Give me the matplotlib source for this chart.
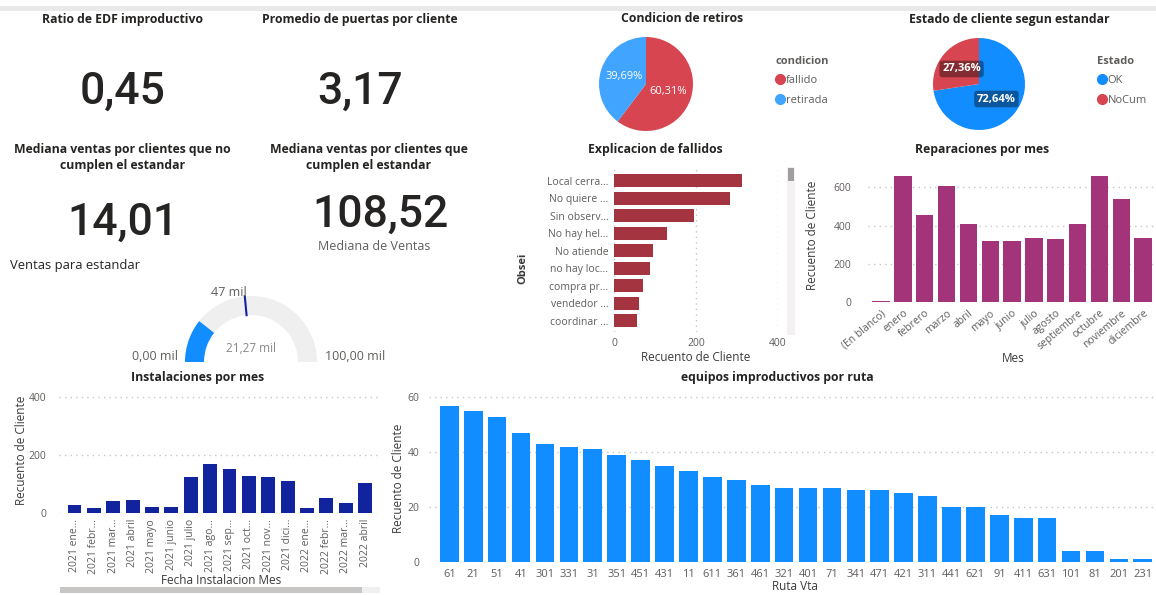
import matplotlib
matplotlib.use("Agg")
import matplotlib.pyplot as plt
from matplotlib.patches import Wedge, Rectangle
from matplotlib.lines import Line2D
import numpy as np

# ---------------- data ----------------
kpi_titles = ["Ratio de EDF improductivo", "Promedio de puertas por cliente",
              "Mediana ventas por clientes que no\ncumplen el estandar",
              "Mediana ventas por clientes que\ncumplen el estandar"]
kpi_values = ["0,45", "3,17", "14,01", "108,52"]

retiros_labels = ["fallido", "retirada"]
retiros_values = [60.31, 39.69]

estado_labels = ["OK", "NoCum"]
estado_values = [72.64, 27.36]

fallidos_labels = ["Local cerra...", "No quiere ...", "Sin observ...", "No hay hel...",
                   "No atiende", "no hay loc...", "compra pr...", "vendedor ...", "coordinar ..."]
fallidos_values = [313, 284, 195, 129, 95, 88, 71, 61, 55]

meses_labels = ["(En blanco)", "enero", "febrero", "marzo", "abril", "mayo", "junio", "julio",
                "agosto", "septiembre", "octubre", "noviembre", "diciembre"]
reparaciones_values = [7, 661, 454, 607, 409, 322, 318, 334, 329, 407, 661, 541, 336]

inst_labels = ["2021 ene...", "2021 febr...", "2021 mar...", "2021 abril", "2021 mayo",
               "2021 junio", "2021 julio", "2021 ago...", "2021 sep...", "2021 oct...",
               "2021 nov...", "2021 dici...", "2022 ene...", "2022 febr...", "2022 mar...",
               "2022 abril"]
inst_values = [28, 17, 41, 44, 23, 23, 125, 170, 151, 128, 124, 109, 17, 53, 37, 104]

rutas = ["61", "21", "51", "41", "301", "331", "31", "351", "451", "431", "11", "611", "361",
         "461", "321", "401", "71", "341", "471", "421", "311", "441", "621", "91", "411",
         "631", "101", "81", "201", "231"]
rutas_values = [57, 55, 53, 47, 43, 42, 41, 39, 37, 35, 33, 31, 30, 28, 27, 27, 27, 26, 26,
                25, 24, 20, 20, 17, 16, 16, 4, 4, 1, 1]

gauge_min, gauge_max = 0, 100
gauge_value = 21.27
gauge_target = 47

# ---------------- style ----------------
W, H = 1156, 595
DPI = 100
TF = ["Open Sans", "DejaVu Sans"]
NF = ["Roboto", "DejaVu Sans"]
DARK = "#252423"
GRAY = "#605E5C"
GRID = "#C8C6C4"

plt.rcParams["font.family"] = TF
fig = plt.figure(figsize=(W / DPI, H / DPI), dpi=DPI, facecolor="white")

ov = fig.add_axes([0, 0, 1, 1], zorder=0)
ov.set_xlim(0, W)
ov.set_ylim(-H, 0)
ov.axis("off")


def ax_px(x0, y0, x1, y1):
    a = fig.add_axes([x0 / W, 1 - y1 / H, (x1 - x0) / W, (y1 - y0) / H], zorder=2)
    a.set_facecolor("none")
    return a


def txt(x, y, s, **kw):
    kw.setdefault("color", DARK)
    kw.setdefault("ha", "center")
    kw.setdefault("va", "center")
    return ov.text(x, -y, s, **kw)


# top band
ov.add_patch(Rectangle((0, -11), W, 5, color="#E9E9E9", lw=0))

# ---------------- KPI cards ----------------
title_kw = dict(fontsize=8.8, fontweight="bold", linespacing=1.25)
txt(123, 19, kpi_titles[0], **title_kw)
txt(360, 19, kpi_titles[1], **title_kw)
txt(122.5, 157.5, kpi_titles[2], **title_kw)
txt(369, 157.5, kpi_titles[3], **title_kw)

num_kw = dict(fontsize=32, family=NF, va="baseline", fontweight="medium")
txt(122.5, 103.5, kpi_values[0], **num_kw)
txt(360, 103.5, kpi_values[1], **num_kw)
txt(122.5, 235, kpi_values[2], **num_kw)
txt(380, 226.5, kpi_values[3], **num_kw)
txt(374, 246, "Mediana de Ventas", fontsize=9, color=GRAY)
txt(10, 265, "Ventas para estandar", fontsize=9.4, ha="left")

# ---------------- gauge ----------------
gcx, gcy, r_out, width = 251, -362, 66, 19
span = gauge_max - gauge_min
ov.add_patch(Wedge((gcx, gcy), r_out, 0, 180, width=width, facecolor="#F0EFEF", lw=0))
v_ang = 180 - (gauge_value - gauge_min) / span * 180
ov.add_patch(Wedge((gcx, gcy), r_out, v_ang, 180, width=width, facecolor="#118DFF", lw=0))
t_ang = np.deg2rad(180 - (gauge_target - gauge_min) / span * 180)
ov.plot([gcx + (r_out - width) * np.cos(t_ang), gcx + r_out * np.cos(t_ang)],
        [gcy + (r_out - width) * np.sin(t_ang), gcy + r_out * np.sin(t_ang)],
        color="#12239E", lw=1.5)
txt(229, 293, f"{gauge_target} mil", fontsize=9, color=GRAY)
txt(178, 357, f"{gauge_min:.2f} mil".replace(".", ","), fontsize=9, color=GRAY, ha="right")
txt(325, 357, f"{gauge_max:.2f} mil".replace(".", ","), fontsize=9, color=GRAY, ha="left")
txt(251, 349, f"{gauge_value:.2f} mil".replace(".", ","), fontsize=8.5, color="#8A8886")


# ---------------- pies ----------------
def pie_chart(cx, cy, r, values, labels, colors, title, tx, ty, leg_title, lx, ly, boxed):
    a = ax_px(cx - r, cy - r, cx + r, cy + r)
    bbox = dict(boxstyle="round,pad=0.25", fc=(0, 0, 0, 0.38), ec="none") if boxed else None
    wedges, _, autotexts = a.pie(values, colors=colors, startangle=90, counterclock=False,
                                 autopct=lambda p: f"{p:.2f}%".replace(".", ","),
                                 pctdistance=0.5,
                                 textprops=dict(color="white", fontsize=8,
                                                fontweight="bold" if boxed else "normal"))
    for t in autotexts:
        if bbox:
            t.set_bbox(bbox)
    a.set_xlim(-1, 1)
    a.set_ylim(-1, 1)
    a.set_aspect("equal")
    txt(tx, ty, title, fontsize=8.8, fontweight="bold")
    handles = [Line2D([], [], marker="o", ls="", markersize=7, markerfacecolor=c,
                      markeredgecolor=c) for c in colors]
    leg = a.legend(handles, labels, title=leg_title, loc="upper left",
                   bbox_to_anchor=(lx / W, 1 - ly / H), bbox_transform=fig.transFigure,
                   frameon=False, fontsize=8, handletextpad=0.05, handlelength=0.9,
                   labelspacing=0.75, borderpad=0, borderaxespad=0, alignment="left",
                   title_fontproperties=dict(size=8, weight="bold"))
    leg.get_title().set_color(GRAY)
    for t in leg.get_texts():
        t.set_color(GRAY)
    return a


pie_chart(646, 84, 47, retiros_values, retiros_labels, ["#D64550", "#41A4FF"],
          "Condicion de retiros", 682.5, 19, "condicion", 775, 56, False)
pie_chart(979, 84, 46, estado_values, estado_labels, ["#118DFF", "#D64550"],
          "Estado de cliente segun estandar", 1009, 19, "Estado", 1097, 56, True)


def style_axes(a, grid_axis="y"):
    for s in a.spines.values():
        s.set_visible(False)
    a.tick_params(length=0, labelsize=7.5, labelcolor=GRAY, pad=4)
    a.grid(axis=grid_axis, color=GRID, linestyle=(0, (1, 3)), lw=1)
    a.set_axisbelow(True)


# ---------------- Explicacion de fallidos ----------------
a = ax_px(614, 168, 778, 332)
yy = np.arange(len(fallidos_values))
a.barh(yy, fallidos_values, height=0.76, color="#A4343F")
a.set_xlim(0, 400)
a.set_ylim(8.65, -0.73)
a.set_yticks(yy, fallidos_labels)
a.set_xticks([0, 200, 400])
style_axes(a, "x")
txt(655.8, 150, "Explicacion de fallidos", fontsize=8.8, fontweight="bold")
txt(523, 268, "Obsei", fontsize=8, rotation=90, fontweight="bold", color="#3B3A39")
txt(695.8, 357.5, "Recuento de Cliente", fontsize=8.5, color="#3B3A39")
ov.add_patch(Rectangle((787, -335), 8, 168, color="#F3F2F1", lw=0))
ov.add_patch(Rectangle((788, -181), 6, 13, color="#A19F9D", lw=0))

# ---------------- Reparaciones por mes ----------------
a = ax_px(868, 170, 1154, 302.3)
xx = np.arange(len(reparaciones_values))
a.bar(xx, reparaciones_values, width=0.79, color="#A33479")
a.set_ylim(0, 690)
a.set_xlim(-0.6, 12.5)
a.set_yticks([0, 200, 400, 600])
a.set_xticks(xx, meses_labels, rotation=40, ha="right", rotation_mode="anchor")
style_axes(a, "y")
a.tick_params(axis="y", pad=12)
txt(982.5, 150, "Reparaciones por mes", fontsize=8.8, fontweight="bold")
txt(812, 235, "Recuento de Cliente", fontsize=8.5, rotation=90, color="#3B3A39")
txt(1013, 358, "Mes", fontsize=8.5, color="#3B3A39")

# ---------------- Instalaciones por mes ----------------
a = ax_px(59, 396, 380, 513.3)
xx = np.arange(len(inst_values))
a.bar(xx, inst_values, width=0.72, color="#12239E")
a.set_ylim(0, 402)
a.set_xlim(-0.8, 15.77)
a.set_yticks([0, 200, 400])
a.set_xticks(xx, inst_labels, rotation=90, ha="center", va="top")
style_axes(a, "y")
a.tick_params(axis="y", pad=9)
txt(197.5, 378, "Instalaciones por mes", fontsize=8.8, fontweight="bold")
txt(22, 450, "Recuento de Cliente", fontsize=8.5, rotation=90, color="#3B3A39")
txt(221, 580, "Fecha Instalacion Mes", fontsize=8.5, color="#3B3A39")
ov.add_patch(Rectangle((60, -593), 320, 6, color="#F0F0F0", lw=0))
ov.add_patch(Rectangle((60, -593), 302, 6, color="#C8C6C4", lw=0))

# ---------------- equipos improductivos por ruta ----------------
a = ax_px(429, 396, 1155, 561.7)
xx = np.arange(len(rutas_values))
a.bar(xx, rutas_values, width=0.78, color="#118DFF")
a.set_ylim(0, 60.5)
a.set_xlim(-0.85, 29.51)
a.set_yticks([0, 20, 40, 60])
a.set_xticks(xx, rutas)
style_axes(a, "y")
a.tick_params(axis="y", pad=7)
a.tick_params(axis="x", labelsize=8, pad=5)
txt(777, 378, "equipos improductivos por ruta", fontsize=8.8, fontweight="bold")
txt(398, 478, "Recuento de Cliente", fontsize=8.5, rotation=90, color="#3B3A39")
txt(795, 586, "Ruta Vta", fontsize=8.5, color="#3B3A39")

fig.savefig("out.png", dpi=DPI, facecolor="white")
